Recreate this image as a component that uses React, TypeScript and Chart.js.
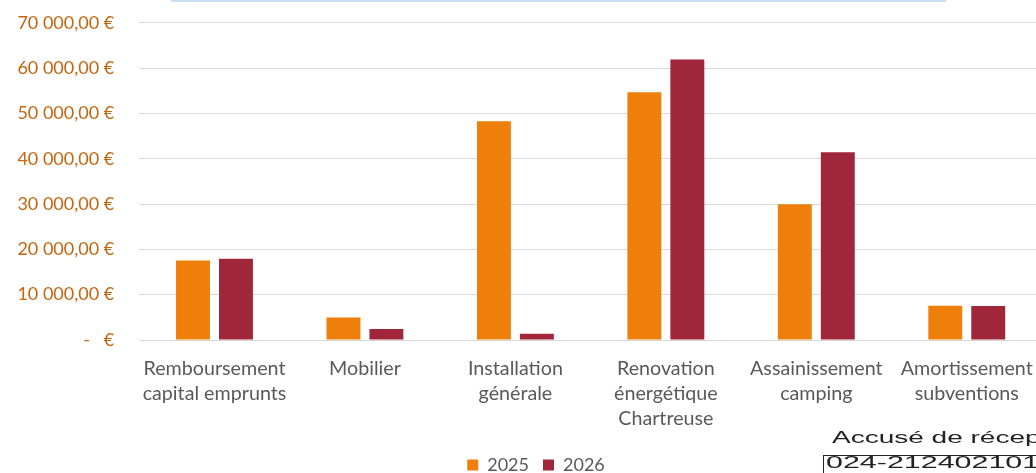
import React, { useEffect, useRef } from "react";
import { Chart, registerables } from "chart.js";

Chart.register(...registerables);

const categories: string[][] = [
  ["Remboursement", "capital emprunts"],
  ["Mobilier"],
  ["Installation", "générale"],
  ["Renovation", "énergétique", "Chartreuse"],
  ["Assainissement", "camping"],
  ["Amortissement", "subventions"],
];
const seriesNames = ["2025", "2026"];
const values2025 = [17550, 4950, 48250, 54650, 29950, 7550];
const values2026 = [17950, 2400, 1400, 61900, 41450, 7500];
const yTicks = [0, 10000, 20000, 30000, 40000, 50000, 60000, 70000];

const ORANGE = "#EF7F0B";
const RED = "#9F2739";
const LABEL_GREY = "#595959";
const AXIS_BROWN = "#C4650F";

function formatEuro(v: number): string {
  if (v === 0) return "-   €";
  const s = Math.round(v)
    .toString()
    .replace(/\B(?=(\d{3})+(?!\d))/g, " ");
  return s + ",00 €";
}

const CANVAS_W = 1072;
const CANVAS_H = 497;
const CANVAS_TOP = -13;

export default function App() {
  const ref = useRef<HTMLCanvasElement | null>(null);

  useEffect(() => {
    if (!ref.current) return;
    const chart = new Chart(ref.current, {
      type: "bar",
      data: {
        labels: categories,
        datasets: [
          {
            label: seriesNames[0],
            data: values2025,
            backgroundColor: ORANGE,
            categoryPercentage: 0.571,
            barPercentage: 0.79,
            yAxisID: "y",
          },
          {
            label: seriesNames[1],
            data: values2026,
            backgroundColor: RED,
            categoryPercentage: 0.571,
            barPercentage: 0.79,
            yAxisID: "y",
          },
        ],
      },
      options: {
        responsive: false,
        animation: false,
        devicePixelRatio: 1,
        layout: { padding: { top: 9, left: 0, right: 0, bottom: 0 } },
        plugins: {
          tooltip: { enabled: false },
          legend: {
            position: "bottom",
            labels: {
              boxWidth: 11,
              boxHeight: 11,
              padding: 14,
              color: LABEL_GREY,
              font: { family: "Lato", size: 18 },
            },
          },
        },
        scales: {
          x: {
            grid: { display: false, drawTicks: false },
            border: { display: false },
            ticks: {
              color: LABEL_GREY,
              padding: 16.5,
              autoSkip: false,
              maxRotation: 0,
              minRotation: 0,
              font: { family: "Lato", size: 19.7, lineHeight: 25 / 19.7 },
            },
            afterFit: (s: any) => {
              s.height = 102;
            },
          },
          y: {
            position: "left",
            min: 0,
            max: 70000,
            grid: { color: "#D9D9D9", lineWidth: 1, drawTicks: false },
            border: { display: false },
            ticks: {
              color: AXIS_BROWN,
              padding: 25,
              font: { family: "Lato", size: 18 },
              callback: (v: any) => formatEuro(Number(v)),
            },
            afterBuildTicks: (s: any) => {
              s.ticks = yTicks.map((v) => ({ value: v }));
            },
            afterFit: (s: any) => {
              s.width = 139.25;
            },
          },
          yRight: {
            position: "right",
            display: true,
            grid: { display: false, drawTicks: false },
            border: { display: false },
            ticks: { display: false },
            afterFit: (s: any) => {
              s.width = 30;
            },
          },
        },
      } as any,
    });
    return () => chart.destroy();
  }, []);

  return (
    <div
      style={{
        position: "fixed",
        left: 0,
        top: 0,
        width: 1036,
        height: 473,
        overflow: "hidden",
        background: "#ffffff",
      }}
    >
      <canvas
        ref={ref}
        width={CANVAS_W}
        height={CANVAS_H}
        style={{ position: "absolute", left: 0, top: CANVAS_TOP, width: CANVAS_W, height: CANVAS_H }}
      />
      <div
        style={{
          position: "absolute",
          left: 171,
          top: 0,
          width: 775,
          height: 2,
          background: "#C9DFF2",
        }}
      />
      <div
        style={{
          position: "absolute",
          left: 832,
          top: 429,
          fontFamily: "'Liberation Sans', Arial, sans-serif",
          fontSize: 16,
          color: "#222",
          whiteSpace: "nowrap",
          transform: "scaleX(1.75)",
          transformOrigin: "left top",
        }}
      >
        Accusé de réception
      </div>
      <div
        style={{
          position: "absolute",
          left: 823,
          top: 455,
          width: 300,
          height: 30,
          borderLeft: "1.5px solid #222",
          borderTop: "1.5px solid #222",
        }}
      />
      <div
        style={{
          position: "absolute",
          left: 826,
          top: 453,
          fontFamily: "'Liberation Sans', Arial, sans-serif",
          fontSize: 17,
          color: "#222",
          whiteSpace: "nowrap",
          transform: "scaleX(1.79)",
          transformOrigin: "left top",
        }}
      >
        024-212402101-2025
      </div>
    </div>
  );
}
